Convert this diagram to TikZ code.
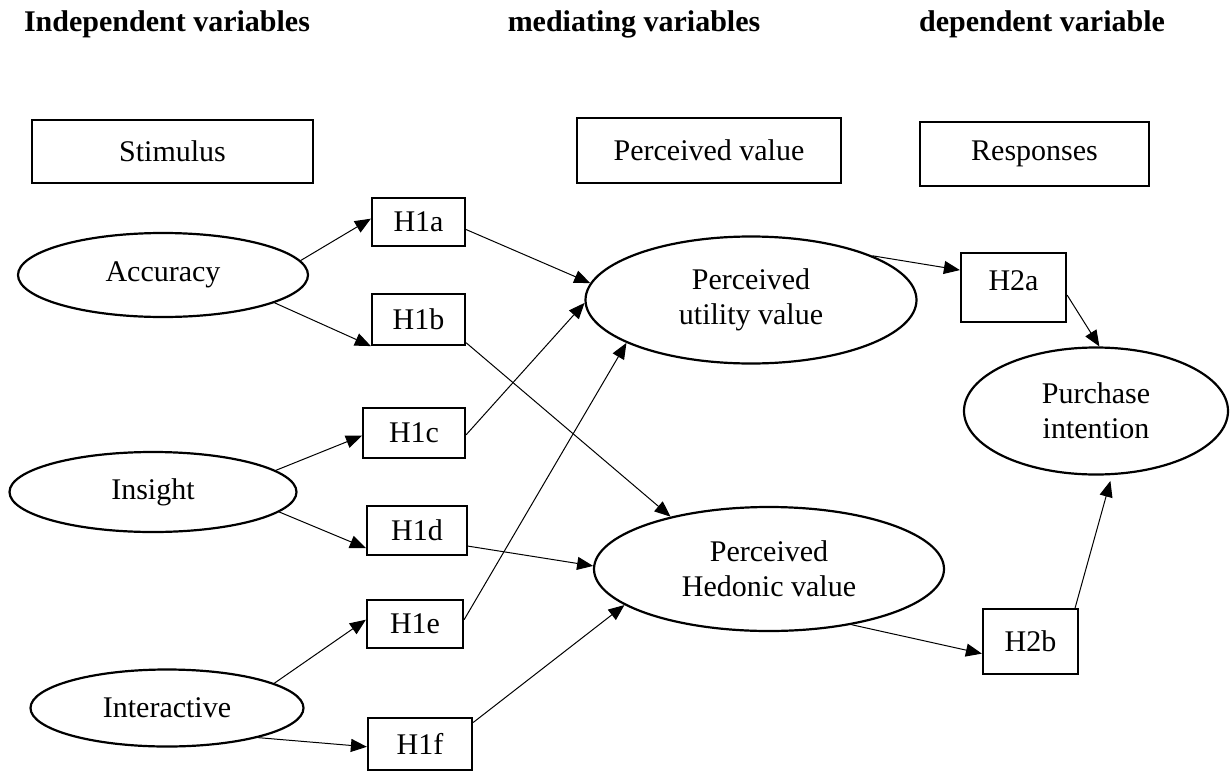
\documentclass[tikz,border=0pt]{standalone}
\usepackage{fontspec}
\setmainfont{Liberation Serif}
\usetikzlibrary{shapes.geometric,arrows.meta}
\begin{document}
\begin{tikzpicture}[x=0.5pt,y=-0.5pt,
  every node/.style={font=\fontsize{15}{17.5}\selectfont, inner sep=0pt},
  title/.style={font=\fontsize{15}{17.5}\selectfont\bfseries, anchor=base},
  topbox/.style={draw, line width=1.1pt, rectangle},
  hbox/.style={draw, line width=1.1pt, rectangle},
  ell/.style={draw, line width=1.1pt, ellipse, align=center},
  link/.style={line width=0.5pt, -{Triangle[length=8pt,width=6.5pt]}}]
\useasboundingbox (0,0) rectangle (1231,771);

% titles
\node[title] (t1) at (167,32) {Independent variables};
\node[title] (t2) at (634,32) {mediating variables};
\node[title] (t3) at (1042,32) {dependent variable};

% top boxes
\node[topbox, minimum width=140.5pt, minimum height=31.5pt] (stim) at (172.5,151.5) {Stimulus};
\node[topbox, minimum width=132pt, minimum height=32.5pt] (pv) at (709,150.5) {Perceived value};
\node[topbox, minimum width=114.5pt, minimum height=32pt] (resp) at (1034.5,154) {Responses};

% ellipses
\node[ell, minimum width=145pt, minimum height=42pt] (acc) at (163,275) {Accuracy};
\node[ell, minimum width=143.5pt, minimum height=40pt] (ins) at (153,492) {Insight};
\node[ell, minimum width=136.5pt, minimum height=38.5pt] (int) at (167,708) {Interactive};
\node[ell, minimum width=165.5pt, minimum height=63.5pt] (puv) at (751,300) {Perceived\\utility value};
\node[ell, minimum width=175pt, minimum height=62pt] (phv) at (769,569) {Perceived\\Hedonic value};
\node[ell, minimum width=132pt, minimum height=63.5pt] (pi) at (1096,411) {Purchase\\intention};

% hypothesis boxes
\node[hbox, minimum width=46.5pt, minimum height=24pt] (h1a) at (418.5,222) {H1a};
\node[hbox, minimum width=46.5pt, minimum height=25.5pt] (h1b) at (418.5,319.5) {H1b};
\node[hbox, minimum width=51pt, minimum height=25pt] (h1c) at (414,433) {H1c};
\node[hbox, minimum width=50pt, minimum height=24.5pt] (h1d) at (417,530.5) {H1d};
\node[hbox, minimum width=48pt, minimum height=24pt] (h1e) at (415,624) {H1e};
\node[hbox, minimum width=52pt, minimum height=26pt] (h1f) at (420,744) {H1f};
\node[hbox, minimum width=52.5pt, minimum height=34.5pt, text height=10pt, text depth=7.5pt] (h2a) at (1013.5,287.5) {H2a};
\node[hbox, minimum width=47.5pt, minimum height=32.5pt] (h2b) at (1030.5,641.5) {H2b};

% connectors
\draw[link] (acc.6) -- (h1a.176);
\draw[link] (acc.-14) -- (h1b.south west);
\draw[link] (h1a.-9) -- (puv.174);
\draw[link] (h1b.-26) -- (phv.152);
\draw[link] (ins.10) -- (h1c.183);
\draw[link] (h1c.-2) -- (puv.181);
\draw[link] (ins.-9) -- (h1d.199);
\draw[link] (h1d.-17) -- (phv.179);
\draw[link] (h1e.5) -- (puv.199);
\draw[link] (int.13) -- (h1e.175);
\draw[link] (int.-18) -- (h1f.183);
\draw[link] (h1f.22) -- (phv.194);
\draw[link] (puv.20) -- (h2a.162);
\draw[link] (h2a.-8) -- (pi.87);
\draw[link] (phv.-34) -- (h2b.194);
\draw[link, shorten >=3pt] (h2b.37) -- (pi.-76);
\end{tikzpicture}
\end{document}
